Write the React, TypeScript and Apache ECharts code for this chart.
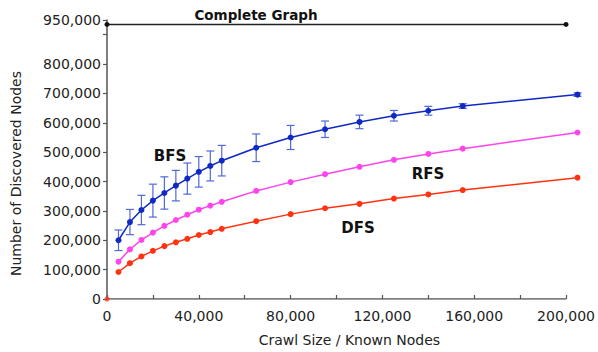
import React, { useEffect, useRef } from "react";
import * as echarts from "echarts";

const crawlSizes = [5000, 10000, 15000, 20000, 25000, 30000, 35000, 40000, 45000, 50000, 65000, 80000, 95000, 110000, 125000, 140000, 155000, 205000];
const bfsValues = [200000, 262000, 303000, 335000, 361000, 386000, 410000, 433000, 453000, 471000, 515000, 550000, 578000, 603000, 624000, 641000, 657000, 696000];
const bfsErrors = [35000, 43000, 50000, 56000, 55000, 52000, 53000, 52000, 51000, 52000, 47000, 41000, 28000, 23000, 18000, 15000, 8000, 6000];
const rfsValues = [127000, 169000, 201000, 226000, 249000, 269000, 287000, 304000, 318000, 331000, 368000, 398000, 425000, 450000, 474000, 494000, 512000, 567000];
const dfsValues = [92000, 122000, 145000, 164000, 180000, 193000, 205000, 218000, 228000, 239000, 265000, 289000, 309000, 324000, 342000, 356000, 371000, 413000];
const completeX = [0, 200000];
const completeValue = 935000;
const originPoint = [0, 0];
const xAxisEnd = 200000;
const xTickLabels = [0, 40000, 80000, 120000, 160000, 200000];
const xTicks = [0, 20000, 40000, 60000, 80000, 100000, 120000, 140000, 160000, 180000, 200000];
const yTickLabels = [0, 100000, 200000, 300000, 400000, 500000, 600000, 700000, 800000, 950000];
const yTicks = [0, 100000, 200000, 300000, 400000, 500000, 600000, 700000, 800000, 900000, 950000];

const FONT = "DejaVu Sans";
const AXIS = "#555555";
const BLUE = "#1028c4";
const ERR = "#5068d8";
const MAGENTA = "#ff44ee";
const RED = "#ff3311";

const fmt = (v: number) => Number(v).toLocaleString("en-US");

export default function App() {
  const ref = useRef<HTMLDivElement>(null);
  useEffect(() => {
    if (!ref.current) return;
    const chart = echarts.init(ref.current, null, { renderer: "svg" });
    const bfsData = crawlSizes.map((x, i) => [x, bfsValues[i]]);
    const errData = crawlSizes.map((x, i) => [x, bfsValues[i] - bfsErrors[i], bfsValues[i] + bfsErrors[i]]);
    chart.setOption({
      animation: false,
      textStyle: { fontFamily: FONT },
      grid: { left: 107, right: 16.5, top: 20, bottom: 50 },
      xAxis: {
        type: "value",
        min: 0,
        max: 206000,
        name: "Crawl Size / Known Nodes",
        nameLocation: "middle",
        nameGap: 34,
        nameTextStyle: { fontFamily: FONT, fontSize: 14, color: "#222", padding: [0, 0, 0, 12] },
        axisLine: { show: false },
        axisTick: { show: true, customValues: xTicks, inside: true, length: 4, lineStyle: { color: AXIS, width: 1.2 } },
        axisLabel: {
          customValues: xTickLabels,
          formatter: (v: number) => fmt(v),
          fontFamily: FONT,
          fontSize: 14,
          color: "#222",
          margin: 10,
        },
        splitLine: { show: false },
      },
      yAxis: {
        type: "value",
        min: 0,
        max: 950000,
        name: "Number of Discovered Nodes",
        nameLocation: "middle",
        nameGap: 84,
        nameTextStyle: { fontFamily: FONT, fontSize: 14, color: "#222", padding: [0, 28, 0, 0] },
        axisLine: { show: true, lineStyle: { color: AXIS, width: 1.5 } },
        axisTick: { show: true, customValues: yTicks, length: 4, lineStyle: { color: AXIS, width: 1.2 } },
        axisLabel: {
          customValues: yTickLabels,
          formatter: (v: number) => fmt(v),
          fontFamily: FONT,
          fontSize: 14,
          color: "#222",
          margin: 6,
        },
        splitLine: { show: false },
      },
      series: [
        {
          name: "x axis",
          type: "line",
          data: [[0, 0], [xAxisEnd, 0]],
          symbol: "none",
          lineStyle: { color: AXIS, width: 1.5 },
          silent: true,
          z: 1,
        },
        {
          name: "Complete Graph",
          type: "line",
          data: completeX.map((x) => [x, completeValue]),
          symbol: "circle",
          symbolSize: 5,
          lineStyle: { color: "#222", width: 1.5 },
          itemStyle: { color: "#111" },
          z: 3,
        },
        {
          name: "BFS error",
          type: "custom",
          clip: false,
          data: errData,
          renderItem: (params: any, api: any) => {
            const x = api.value(0);
            const lo = api.coord([x, api.value(1)]);
            const hi = api.coord([x, api.value(2)]);
            const st = { stroke: ERR, lineWidth: 1.2 };
            return {
              type: "group",
              children: [
                { type: "line", shape: { x1: lo[0], y1: lo[1], x2: hi[0], y2: hi[1] }, style: st },
                { type: "line", shape: { x1: lo[0] - 4, y1: lo[1], x2: lo[0] + 4, y2: lo[1] }, style: st },
                { type: "line", shape: { x1: hi[0] - 4, y1: hi[1], x2: hi[0] + 4, y2: hi[1] }, style: st },
              ],
            };
          },
          z: 2,
        },
        {
          name: "BFS",
          type: "line",
          data: bfsData,
          symbol: "circle",
          symbolSize: 6,
          lineStyle: { color: BLUE, width: 1.5 },
          itemStyle: { color: BLUE },
          z: 4,
        },
        {
          name: "RFS",
          type: "line",
          data: crawlSizes.map((x, i) => [x, rfsValues[i]]),
          symbol: "circle",
          symbolSize: 6,
          lineStyle: { color: MAGENTA, width: 1.5 },
          itemStyle: { color: MAGENTA },
          z: 4,
        },
        {
          name: "DFS",
          type: "line",
          data: crawlSizes.map((x, i) => [x, dfsValues[i]]),
          symbol: "circle",
          symbolSize: 6,
          lineStyle: { color: RED, width: 1.5 },
          itemStyle: { color: RED },
          z: 4,
        },
        {
          name: "origin",
          type: "scatter",
          data: [originPoint],
          symbol: "circle",
          symbolSize: 5,
          itemStyle: { color: RED },
          z: 5,
        },
      ],
      graphic: [
        { type: "text", x: 256, y: 15, style: { text: "Complete Graph", fontFamily: FONT, fontWeight: "bold", fontSize: 13.5, fill: "#111", align: "center", verticalAlign: "middle" } },
        { type: "text", x: 170, y: 156, style: { text: "BFS", fontFamily: FONT, fontWeight: "bold", fontSize: 15, fill: "#111", align: "center", verticalAlign: "middle" } },
        { type: "text", x: 428, y: 174, style: { text: "RFS", fontFamily: FONT, fontWeight: "bold", fontSize: 15, fill: "#111", align: "center", verticalAlign: "middle" } },
        { type: "text", x: 358, y: 228, style: { text: "DFS", fontFamily: FONT, fontWeight: "bold", fontSize: 15, fill: "#111", align: "center", verticalAlign: "middle" } },
      ],
    });
    return () => chart.dispose();
  }, []);
  return <div ref={ref} style={{ position: "absolute", left: 0, top: 0, width: 598, height: 352 }} />;
}
